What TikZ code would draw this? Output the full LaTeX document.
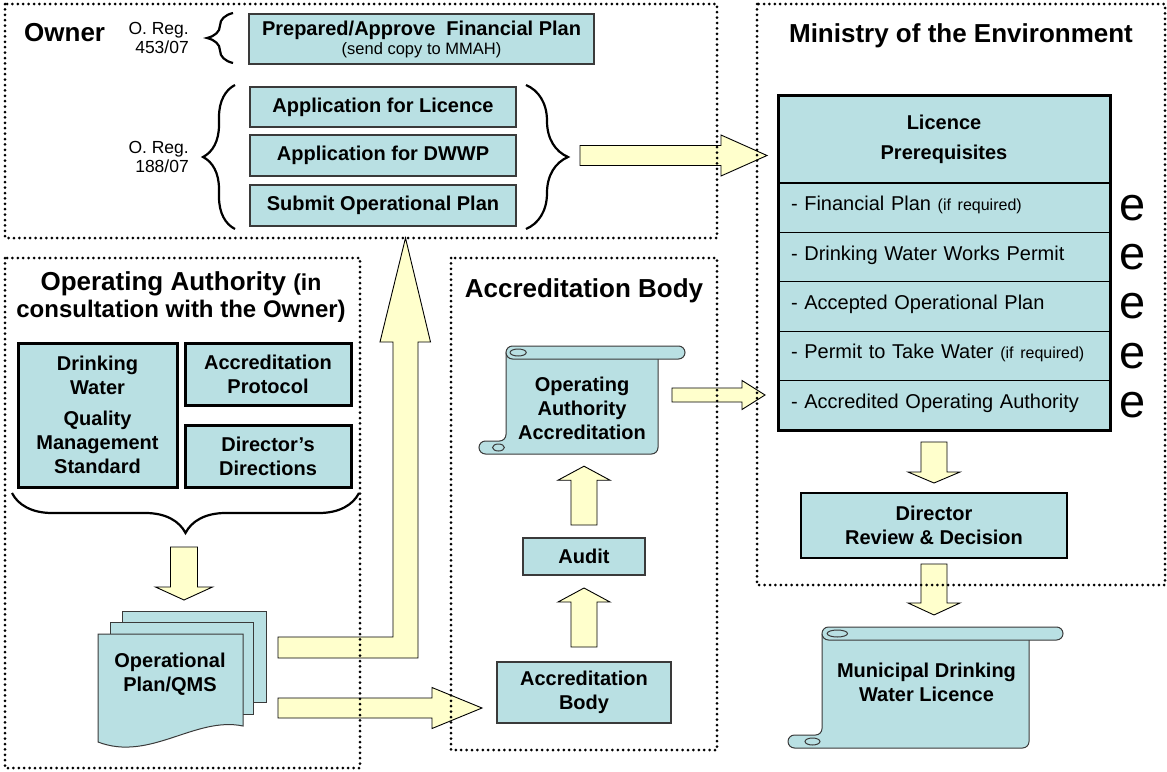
\documentclass[tikz,border=0pt]{standalone}
\usepackage{fontspec}
\setmainfont{Liberation Sans}
\usetikzlibrary{calc,positioning,decorations.pathreplacing}
\definecolor{boxteal}{HTML}{B9E0E3}
\definecolor{arrowcream}{HTML}{FFFFCC}
\definecolor{edgegrey}{HTML}{3A3A3A}
\newcommand{\sz}[2]{\fontsize{#1}{#2}\selectfont}
% scroll outline: left, top, right, bottom, roll width
\newcommand{\scrollbox}[5]{%
  \filldraw[scrollline, rounded corners=6.5pt]
    ({#1+#5},{#2+6.5}) -- ({#1+#5},{#4-13}) -- (#1,{#4-13}) -- (#1,#4)
    -- ({#3-#5},#4) -- ({#3-#5},{#2+13});
  \filldraw[scrollline, rounded corners=6.5pt] ({#1+#5},#2) rectangle (#3,{#2+13});
  \draw[scrollline, fill=none] ({#1+1.45*#5},{#2+6.5}) ellipse [x radius={0.3*#5}, y radius=3.5];
  \draw[scrollline, fill=none] ({#1+0.72*#5},{#4-6.5}) ellipse [x radius={0.22*#5}, y radius=3.5];
}
\tikzset{
  region/.style = {line width=3pt, dash pattern=on 0pt off 5.4pt, line cap=round},
  box/.style    = {rectangle, draw=edgegrey, line width=1.4pt, fill=boxteal,
                   font=\sz{20}{24}\bfseries, align=center, inner sep=0pt, outer sep=0pt},
  heavy/.style  = {box, draw=black, line width=3pt},
  row/.style    = {rectangle, draw=black, line width=1.2pt, fill=boxteal, font=\sz{20}{24},
                   minimum width=332, minimum height=49.4, text width=306, align=left,
                   inner xsep=13pt, inner ysep=0pt, outer sep=0pt,
                   text height=17pt, text depth=11pt},
  plain/.style  = {font=\sz{20}{24}\bfseries, align=center, inner sep=0pt},
  title/.style  = {font=\sz{26}{27}\bfseries, align=center, inner sep=0pt},
  reg/.style    = {font=\sz{17.5}{19}, align=right, inner sep=0pt},
  emark/.style  = {font=\sz{47}{47}, inner sep=0pt},
  brc/.style    = {line width=2.2pt, decorate, decoration={brace, amplitude=#1pt}},
  scrollline/.style = {draw=edgegrey, line width=1pt, fill=boxteal},
  docpage/.style    = {draw=edgegrey, line width=1pt, fill=boxteal},
  bigarrow/.style   = {fill=arrowcream, draw=black, line width=0.9pt},
  fat/.style n args={3}{bigarrow, to path={
      ($(\tikztostart)!#1pt!90:(\tikztotarget)$)
   -- ($($(\tikztotarget)!#3pt!(\tikztostart)$)!#1pt!90:(\tikztotarget)$)
   -- ($($(\tikztotarget)!#3pt!(\tikztostart)$)!#2pt!90:(\tikztotarget)$)
   -- (\tikztotarget)
   -- ($($(\tikztotarget)!#3pt!(\tikztostart)$)!#2pt!-90:(\tikztotarget)$)
   -- ($($(\tikztotarget)!#3pt!(\tikztostart)$)!#1pt!-90:(\tikztotarget)$)
   -- ($(\tikztostart)!#1pt!-90:(\tikztotarget)$) -- cycle}},
}

\begin{document}
\begin{tikzpicture}[x=1pt,y=-1pt]
  \useasboundingbox (0,0) rectangle (1167,771);

  % owner
  \node[title, anchor=west] (ownerttl) at (24,33) {Owner};
  \node[reg, anchor=east] (reg453) at (189,38) {O. Reg.\\453/07};
  \node[reg, anchor=east] (reg188) at (189,157) {O. Reg.\\188/07};
  \node[box, minimum width=345, minimum height=50, anchor=north west, font=\sz{20}{19}\bfseries]
    (finplan) at (249,14) {Prepared/Approve\ \ Financial Plan\\{\mdseries\sz{16.5}{19}(send copy to MMAH)}};
  \node[box, minimum width=266, minimum height=40, anchor=north west] (applic) at (250,87) {Application for Licence};
  \node[box, minimum width=266, minimum height=41, anchor=north west] (dwwp) at (250,135) {Application for DWWP};
  \node[box, minimum width=266, minimum height=41, anchor=north west] (opsub) at (250,185) {Submit Operational Plan};
  \draw[brc=26] (233,63) -- (233,13);
  \draw[brc=32] (235,229) -- (235,85);
  \draw[brc=42] (526,85) -- (526,229);

  % ministry
  \node[title] (moettl) at (961,36) {Ministry of the Environment};
  \node[box, draw=black, line width=1.2pt, minimum width=332, minimum height=88, anchor=north west,
        font=\sz{20}{30}\bfseries] (hdr) at (778,95) {Licence\\Prerequisites};
  \node[row, below=0pt of hdr] (r1) {- Financial Plan {\sz{16}{24}(if required)}};
  \node[row, below=0pt of r1] (r2) {- Drinking Water Works Permit};
  \node[row, below=0pt of r2] (r3) {- Accepted Operational Plan};
  \node[row, below=0pt of r3] (r4) {- Permit to Take Water {\sz{16}{24}(if required)}};
  \node[row, below=0pt of r4] (r5) {- Accredited Operating Authority};
  \draw[line width=3pt] (hdr.north west) rectangle (r5.south east);
  \foreach \r in {1,...,5}
    \node[emark, right=9pt of r\r] (chk\r) {e};
  \node[heavy, line width=2.5pt, minimum width=266, minimum height=65, anchor=north west]
    (director) at (801,493) {Director\\Review \& Decision};
  \scrollbox{788}{627}{1063}{748}{34}
  \node[plain] (licence) at (926.5,682) {Municipal Drinking\\Water Licence};

  % operating authority
  \node[title] (oattl) at (181,297) {Operating Authority {\sz{23}{27}(in}\\{\sz{24}{27}consultation with the Owner)}};
  \node[heavy, minimum width=159, minimum height=144, anchor=north west] (dwqms) at (18,343)
    {Drinking\\Water\\[7pt]Quality\\Management\\Standard};
  \node[heavy, minimum width=166, minimum height=62, anchor=north west] (accprot) at (185,343) {Accreditation\\Protocol};
  \node[heavy, minimum width=166, minimum height=62, anchor=north west] (dirdir) at (185,425) {Director’s\\Directions};
  \coordinate (bracetip) at (184,533);
  \draw[brc=40] (359,493) -- (12,493);
  \filldraw[docpage] (122,611) rectangle (266,702);
  \filldraw[docpage] (110,622) rectangle (253,714);
  \filldraw[docpage] (98,634) -- (243,634) -- (243,726) .. controls (195,716) and (150,762) .. (98,742) -- cycle;
  \node[plain] (opplan) at (170,674) {Operational\\Plan/QMS};
  \coordinate (opout1) at (278,708);
  \coordinate (opout2) at (278,647.5);
  \coordinate (ownerfoot) at (405.5,238);

  % accreditation body
  \node[title] (abttl) at (584,291) {Accreditation Body};
  \scrollbox{479}{346}{685}{454}{27}
  \node[plain, minimum width=153, minimum height=91] (oaacc) at (582,408.5) {Operating\\Authority\\Accreditation};
  \node[box, minimum width=122, minimum height=37, anchor=north west] (audit) at (523,538) {Audit};
  \node[box, minimum width=174, minimum height=61, anchor=north west] (accbody) at (497,662) {Accreditation\\Body};
  \coordinate (oaout) at (672,395);

  % block arrows
  \draw[fat={10}{20.5}{46}] ($(dwwp.east)+(64,0)$) to ($(hdr.west |- dwwp.east)+(-11,0)$);
  \draw[fat={13.5}{28.5}{13}] ($(bracetip)+(0,14)$) to ($(bracetip)+(0,67)$);
  \draw[bigarrow] (opout2) ++(0,-10.5) -| ($(ownerfoot)+(-12.5,104)$) -- ++(-13,0) -- (ownerfoot)
    -- ++(25,104) -- ++(-12.5,0) |- ($(opout2)+(0,10.5)$) -- cycle;
  \draw[fat={10}{20.5}{50}] (opout1) to ($(accbody.west |- opout1)+(-15,0)$);
  \draw[fat={13}{26}{14}] ($(accbody.north)+(0,-15)$) to ($(audit.south)+(0,13)$);
  \draw[fat={13}{26}{14}] ($(audit.north)+(0,-13)$) to ($(audit.north |- oaacc.south)+(0,12)$);
  \draw[fat={7}{14.5}{23}] (oaout) to ($(r5.west |- oaout)+(-13,0)$);
  \draw[fat={13}{26}{11}] ($(director.north |- r5.south)+(0,12)$) to ($(director.north)+(0,-10)$);
  \draw[fat={13}{26}{12}] ($(director.south)+(0,6)$) to ($(director.south |- licence.north)+(0,-47.5)$);

  % regions
  \draw[region] (5,4) rectangle (717,238);
  \draw[region] (757,4) rectangle (1165,585);
  \draw[region] (5,258) rectangle (360,768);
  \draw[region] (451,258) rectangle (717,750);
\end{tikzpicture}
\end{document}
